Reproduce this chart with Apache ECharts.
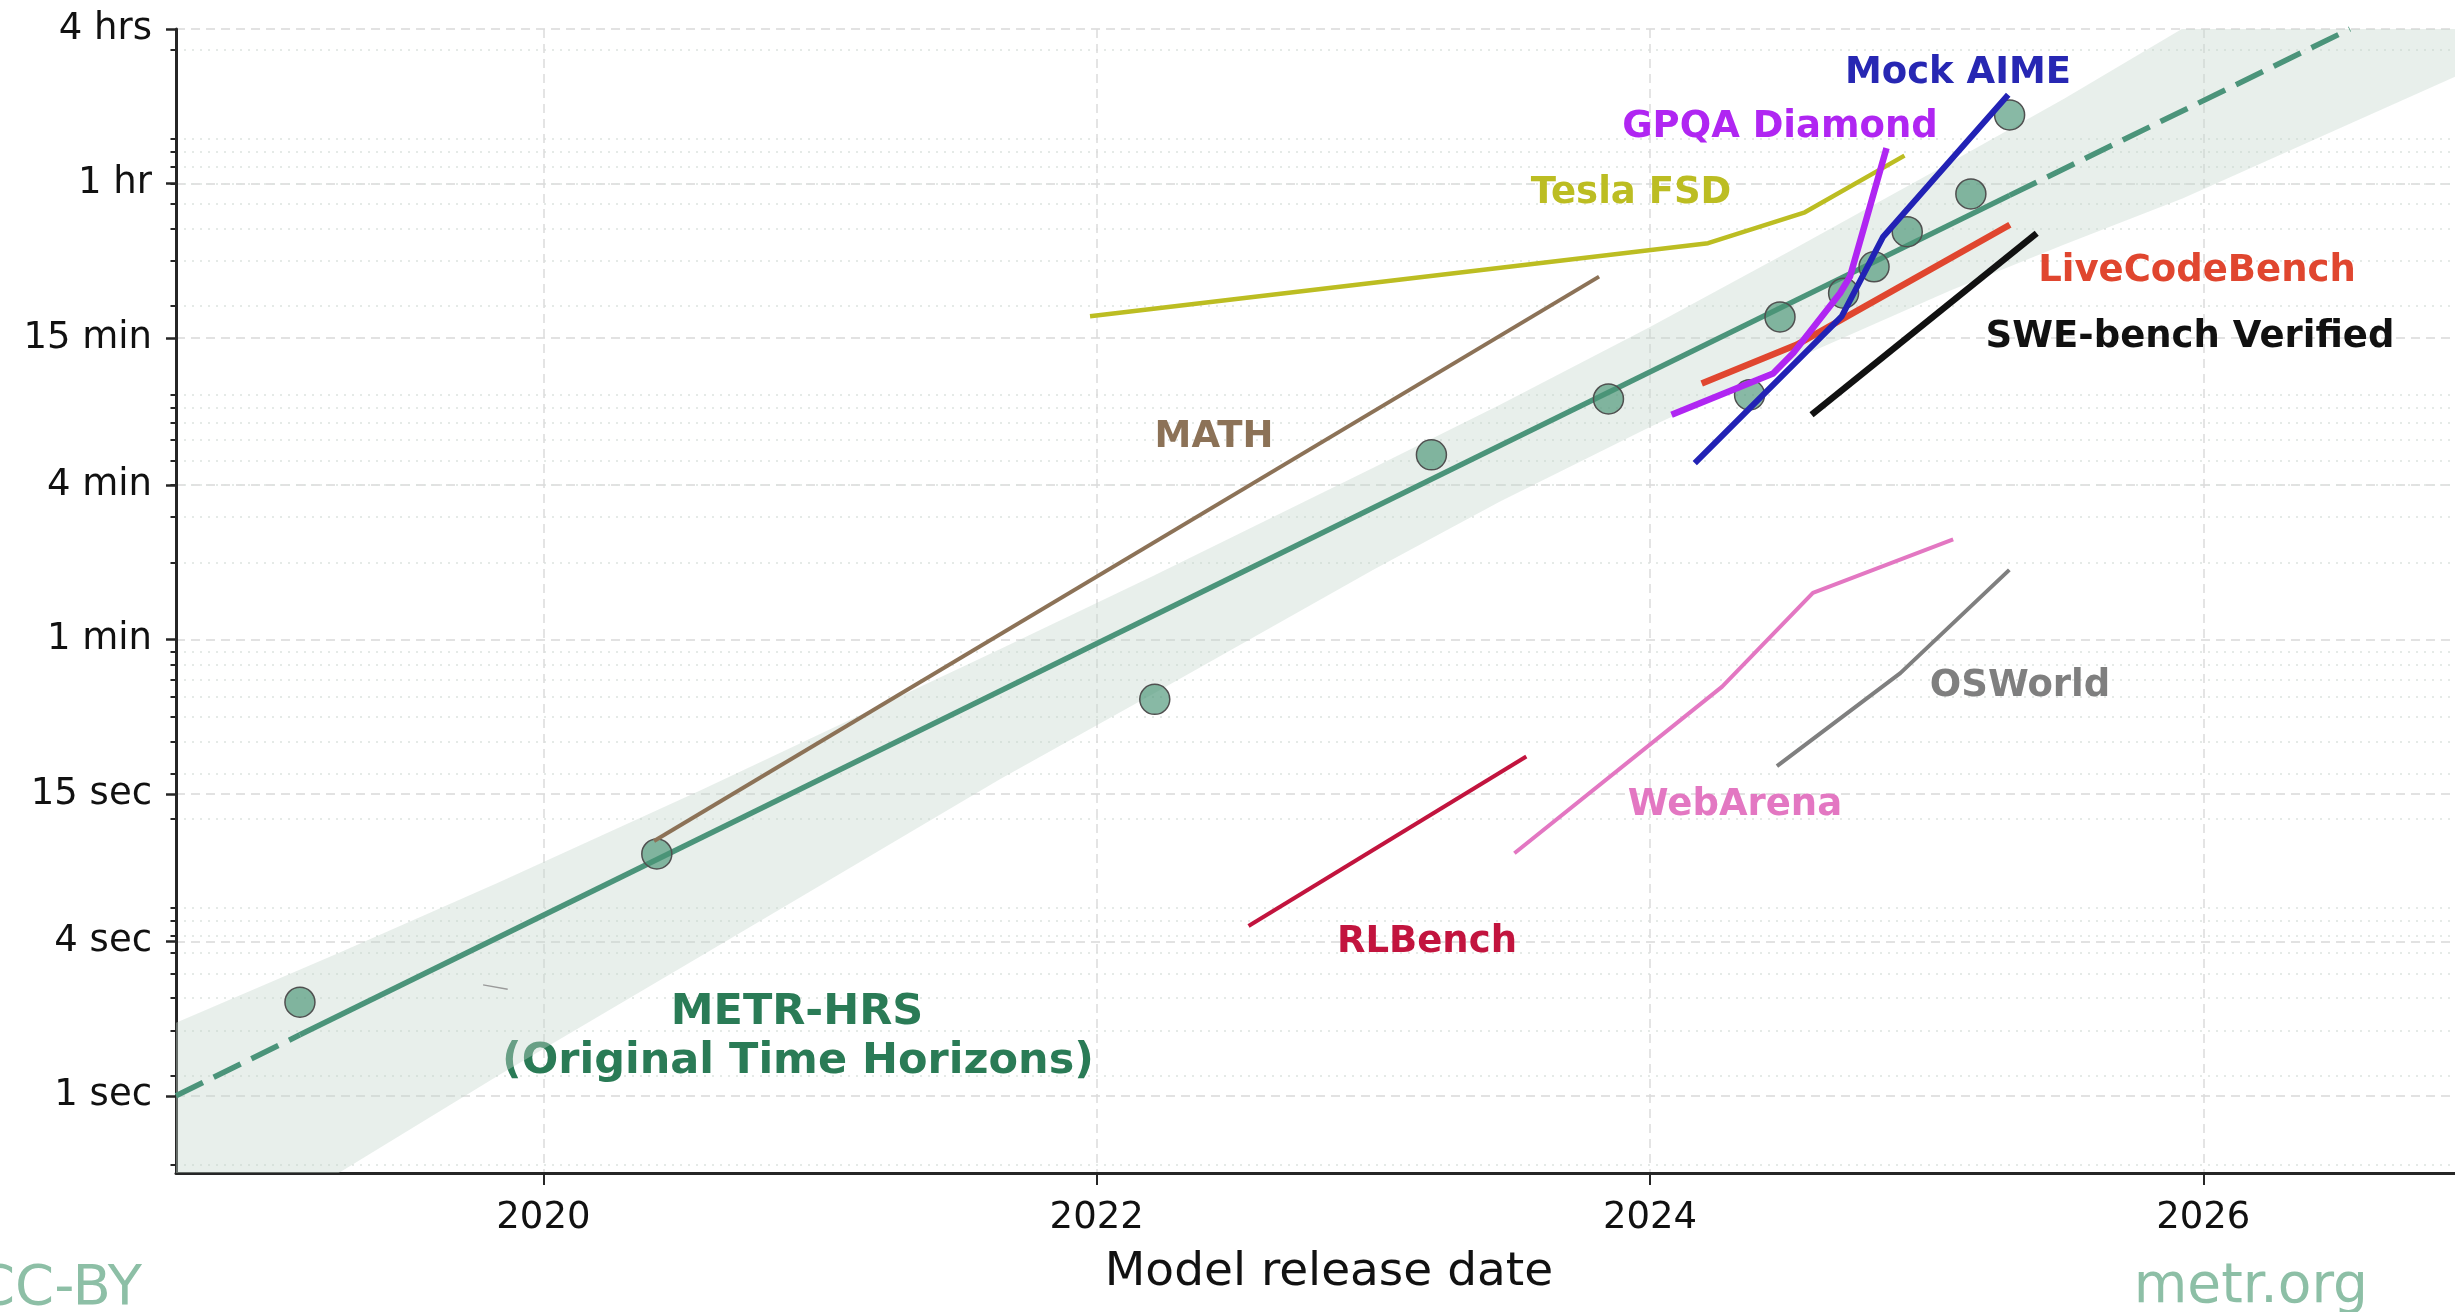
<!DOCTYPE html>
<html>
<head>
<meta charset="utf-8">
<script src="https://cdn.jsdelivr.net/npm/echarts@6/dist/echarts.min.js"></script>
<style>
html,body{margin:0;padding:0;background:#fff;}
#chart{width:2455px;height:1312px;}
</style>
</head>
<body>
<div id="chart"></div>
<script>
// ---------- axis ticks (y values in minutes, x in decimal years) ----------
const xTickValues = [2020, 2022, 2024, 2026];
const yTickValues = [1/60, 1/15, 0.25, 1, 4, 15, 60, 240];
const yTickLabels = ['1 sec', '4 sec', '15 sec', '1 min', '4 min', '15 min', '1 hr', '4 hrs'];
const yMinorTicks = [0.009,
  0.02, 0.03, 0.04, 0.05, 0.06, 0.07, 0.08, 0.09,
  0.2, 0.3, 0.4, 0.5, 0.6, 0.7, 0.8, 0.9,
  2, 3, 4, 5, 6, 7, 8, 9,
  20, 30, 40, 50, 60, 70, 80, 90,
  200];

// ---------- METR-HRS models ----------
const modelYears   = [2019.12, 2020.41, 2022.21, 2023.21, 2023.85, 2024.36, 2024.47, 2024.70, 2024.81, 2024.93, 2025.16, 2025.30];
const modelMinutes = [0.0386, 0.146, 0.585, 5.25, 8.67, 9.0, 18.1, 22.4, 28.4, 38.9, 54.6, 111];

// trend line (solid between the first and last model, dashed outside)
const trendYears   = [2018.672, 2019.12, 2025.30, 2026.53];
const trendMinutes = [0.01667, 0.0288, 53.9, 240];

// confidence band
const bandYears = [2018.672, 2019.26, 2019.84, 2020.565, 2021.65, 2022.2, 2023.0, 2023.458, 2024.0, 2024.5, 2025.084, 2025.5, 2025.927, 2026.91];
const bandUpper = [0.0321, 0.0601, 0.1134, 0.2578, 0.9175, 1.762, 4.673, 8.241, 16.54, 32.40, 72.25, 128.9, 241.6, 941.8];
const bandLower = [0.00362, 0.00834, 0.02007, 0.0581, 0.2856, 0.6109, 1.871, 3.451, 6.743, 12.07, 22.91, 34.76, 52.53, 156.4];

// ---------- other benchmarks ----------
const mathYears = [2020.40, 2023.816];
const mathMinutes = [0.164, 26.0];
const teslaYears = [2021.976, 2024.21, 2024.56, 2024.92];
const teslaMinutes = [18.2, 35.1, 46.3, 77];
const gpqaYears = [2024.078, 2024.445, 2024.518, 2024.687, 2024.723, 2024.771, 2024.855];
const gpqaMinutes = [7.52, 10.9, 13.1, 22.4, 26, 39.5, 82.4];
const aimeYears = [2024.162, 2024.693, 2024.843, 2024.928, 2025.295];
const aimeMinutes = [4.87, 18.2, 37.2, 47.3, 133];
const lcbYears = [2024.187, 2024.530, 2025.301];
const lcbMinutes = [9.97, 14.1, 41.4];
const sweYears = [2024.584, 2025.398];
const sweMinutes = [7.52, 38.4];
const osworldYears = [2024.459, 2024.905, 2025.299];
const osworldMinutes = [0.321, 0.74, 1.87];
const webarenaYears = [2023.510, 2024.261, 2024.589, 2025.096];
const webarenaMinutes = [0.147, 0.656, 1.52, 2.46];
const rlbenchYears = [2022.549, 2023.553];
const rlbenchMinutes = [0.0765, 0.350];
const smallYears = [2019.782, 2019.871];
const smallMinutes = [0.0451, 0.0434];

// ---------- helpers ----------
const zip = (xs, ys) => xs.map((x, i) => [x, ys[i]]);
const FONT = "'DejaVu Sans', 'Liberation Sans', sans-serif";

function yLabel(v) {
  for (let i = 0; i < yTickValues.length; i++) {
    if (Math.abs(Math.log(v / yTickValues[i])) < 1e-4) return yTickLabels[i];
  }
  return '';
}

function benchLine(name, xs, ys, color, width) {
  return {
    name: name, type: 'line', data: zip(xs, ys), symbol: 'none', z: 5,
    lineStyle: {color: color, width: width, cap: 'butt', join: 'round'},
    animation: false, silent: true
  };
}

function label(text, x, y, color, size, z) {
  return {type: 'text', z: z, style: {text: text, x: x, y: y, textAlign: 'center', textVerticalAlign: 'middle',
    font: 'bold ' + size + 'px ' + FONT, fill: color}};
}

const gridRect = {left: 176, right: 0, top: 29, bottom: 139};
const yMin = 1/120, yMax = 240;
const xMin = 2018.672, xMax = 2026.91;

const chart = echarts.init(document.getElementById('chart'), null, {renderer: 'canvas'});

const option = {
  animation: false,
  backgroundColor: '#ffffff',
  grid: [
    Object.assign({containLabel: false}, gridRect),
    Object.assign({containLabel: false}, gridRect)
  ],
  xAxis: [
    {
      type: 'value', gridIndex: 0, min: xMin, max: xMax,
      axisLine: {show: true, lineStyle: {color: '#262626', width: 3}},
      axisTick: {show: true, customValues: xTickValues, length: 12, lineStyle: {color: '#262626', width: 2}},
      axisLabel: {show: true, customValues: xTickValues, formatter: v => String(Math.round(v)),
        color: '#111', fontSize: 37, fontFamily: FONT, margin: 27},
      splitLine: {show: true, lineStyle: {color: '#dcdcdc', width: 1.5, type: [9, 6]}}
    },
    {
      type: 'value', gridIndex: 1, min: xMin, max: xMax, show: false,
      splitLine: {show: false}
    }
  ],
  yAxis: [
    {
      type: 'log', gridIndex: 0, min: yMin, max: yMax, logBase: 10,
      axisLine: {show: true, lineStyle: {color: '#262626', width: 3}},
      axisTick: {show: true, customValues: yTickValues, length: 10, lineStyle: {color: '#262626', width: 2.5}},
      axisLabel: {show: true, customValues: yTickValues, formatter: yLabel,
        color: '#111', fontSize: 37, fontFamily: FONT, margin: 24, padding: [12, 0, 0, 0]},
      splitLine: {show: true, lineStyle: {color: '#d9d9d9', width: 1.5, type: [9, 6]}},
      minorTick: {show: false}, minorSplitLine: {show: false}
    },
    {
      type: 'log', gridIndex: 1, min: yMin, max: yMax, logBase: 10, position: 'left',
      axisLine: {show: false},
      axisTick: {show: true, customValues: yMinorTicks, length: 5.5, lineStyle: {color: '#262626', width: 2}},
      axisLabel: {show: false},
      splitLine: {show: true, lineStyle: {color: '#dde3e0', width: 1.5, type: [2, 6]}}
    }
  ],
  graphic: [
    // METR-HRS label sits under the translucent band
    label('METR-HRS', 797, 1013, '#2a7b56', 43, 1),
    label('(Original Time Horizons)', 798, 1062, '#2a7b56', 43, 1),
    label('Mock AIME', 1958, 73, '#2727b3', 37, 20),
    label('GPQA Diamond', 1780, 127, '#b026f2', 37, 20),
    label('Tesla FSD', 1631, 193, '#bcbd22', 37, 20),
    label('LiveCodeBench', 2197, 271, '#e0462f', 37, 20),
    label('SWE-bench Verified', 2190, 337, '#111111', 37, 20),
    label('MATH', 1214, 437, '#8c7257', 37, 20),
    label('OSWorld', 2020, 686, '#7f7f7f', 37, 20),
    label('WebArena', 1735, 805, '#e377c2', 37, 20),
    label('RLBench', 1427, 942, '#c2143e', 37, 20),
    // axis title and footer
    {type: 'text', z: 20, style: {text: 'Model release date', x: 1329, y: 1273, textAlign: 'center', textVerticalAlign: 'middle',
      font: '47px ' + FONT, fill: '#111'}},
    {type: 'text', z: 20, style: {text: 'CC-BY', x: -24, y: 1289, textAlign: 'left', textVerticalAlign: 'middle',
      font: '56px ' + FONT, fill: '#8dbfa6'}},
    {type: 'text', z: 20, style: {text: 'metr.org', x: 2368, y: 1288, textAlign: 'right', textVerticalAlign: 'middle',
      font: '55px ' + FONT, fill: '#8dbfa6'}}
  ],
  series: [
    {
      name: 'band', type: 'custom', xAxisIndex: 0, yAxisIndex: 0, clip: true, z: 2, silent: true,
      data: [[bandYears[0], bandUpper[0]]],
      renderItem: function (params, api) {
        const pts = [];
        for (let i = 0; i < bandYears.length; i++) pts.push(api.coord([bandYears[i], bandUpper[i]]));
        for (let i = bandYears.length - 1; i >= 0; i--) pts.push(api.coord([bandYears[i], bandLower[i]]));
        return {type: 'polygon', shape: {points: pts, smooth: 0}, style: {fill: 'rgba(198,216,205,0.4)', stroke: 'none'}};
      }
    },
    {
      name: 'trend solid', type: 'line', z: 3, symbol: 'none', silent: true,
      data: zip(trendYears.slice(1, 3), trendMinutes.slice(1, 3)),
      lineStyle: {color: '#4b947a', width: 5.5, cap: 'butt'}
    },
    {
      name: 'trend dashed', type: 'line', z: 3, symbol: 'none', silent: true, connectNulls: false,
      data: [[trendYears[0], trendMinutes[0]], [trendYears[1], trendMinutes[1]], null,
             [trendYears[2], trendMinutes[2]], [trendYears[3], trendMinutes[3]]],
      lineStyle: {color: '#4b947a', width: 5.5, type: [30, 12], cap: 'butt'}
    },
    {
      name: 'models', type: 'scatter', z: 4, silent: true,
      data: zip(modelYears, modelMinutes), symbolSize: 30,
      itemStyle: {color: 'rgba(74,148,118,0.66)', borderColor: '#505050', borderWidth: 1.5, opacity: 1}
    },
    benchLine('MATH', mathYears, mathMinutes, '#8c7257', 4),
    benchLine('Tesla FSD', teslaYears, teslaMinutes, '#bcbd22', 4.5),
    benchLine('RLBench', rlbenchYears, rlbenchMinutes, '#c2143e', 4),
    benchLine('WebArena', webarenaYears, webarenaMinutes, '#e377c2', 4),
    benchLine('OSWorld', osworldYears, osworldMinutes, '#7f7f7f', 4),
    benchLine('small', smallYears, smallMinutes, '#9a9a9a', 1.5),
    benchLine('SWE-bench Verified', sweYears, sweMinutes, '#111111', 6.5),
    benchLine('LiveCodeBench', lcbYears, lcbMinutes, '#e0462f', 6.5),
    benchLine('Mock AIME', aimeYears, aimeMinutes, '#2222b5', 6),
    benchLine('GPQA Diamond', gpqaYears, gpqaMinutes, '#b026f2', 6.5)
  ]
};

chart.setOption(option);
</script>
</body>
</html>
